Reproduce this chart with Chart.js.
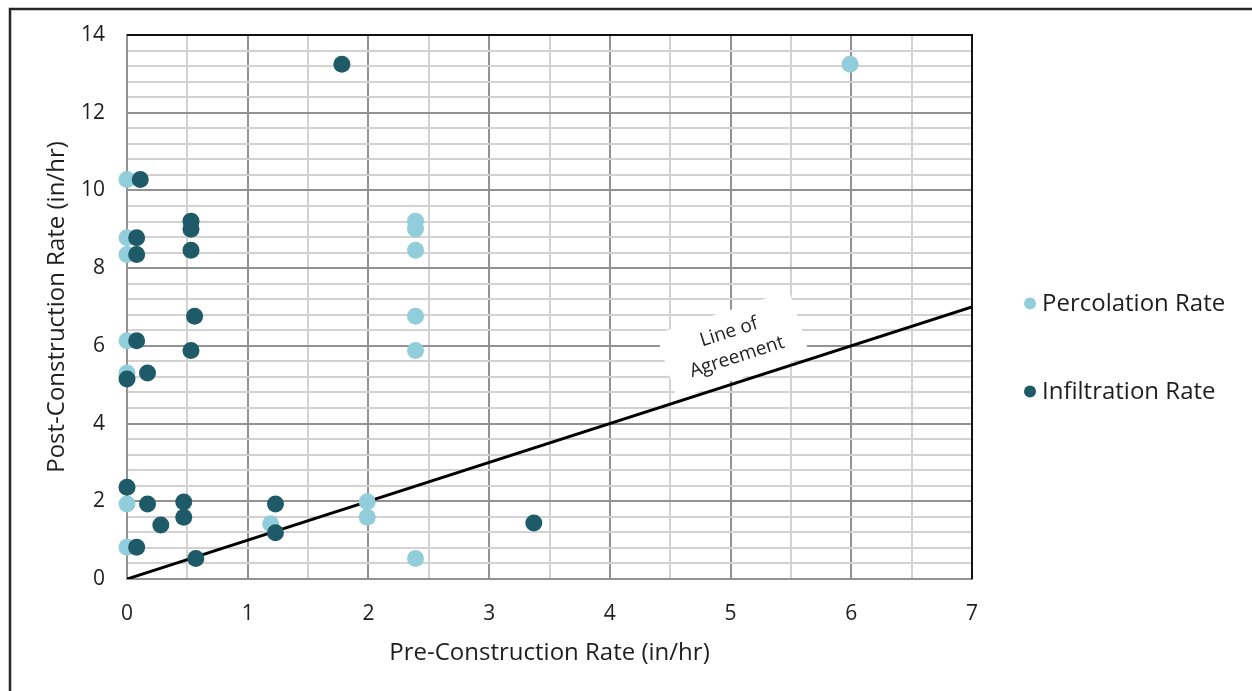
<!DOCTYPE html>
<html><head><meta charset="utf-8">
<script src="https://cdn.jsdelivr.net/npm/chart.js@4/dist/chart.umd.min.js"></script>
<style>html,body{margin:0;padding:0;background:#fff;} #wrap{width:1252px;height:691px;position:relative;}</style>
</head><body><div id="wrap"><canvas id="c"></canvas></div>
<script>
// ---- data ----
const percolationX = [0, 0, 0, 0, 0, 0, 0, 1.19, 1.99, 1.99, 2.39, 2.39, 2.39, 2.39, 2.39, 2.39, 5.99];
const percolationY = [10.28, 8.78, 8.35, 6.13, 5.30, 1.93, 0.82, 1.42, 1.99, 1.59, 9.21, 9.01, 8.46, 6.76, 5.88, 0.53, 13.25];
const infiltrationX = [1.78, 0.11, 0.08, 0.08, 0.53, 0.53, 0.53, 0.56, 0.53, 0.08, 0.17, 0, 0, 0.17, 0.28, 0.47, 0.47, 0.08, 0.57, 1.23, 1.23, 3.37];
const infiltrationY = [13.25, 10.28, 8.78, 8.35, 9.21, 9.00, 8.46, 6.76, 5.88, 6.13, 5.30, 5.15, 2.36, 1.93, 1.39, 1.98, 1.59, 0.82, 0.53, 1.93, 1.19, 1.44];
const agreementX = [0, 7];
const agreementY = [0, 7];
const seriesNames = ['Percolation Rate', 'Infiltration Rate', 'Line of Agreement'];
const annotationLines = ['Line of', 'Agreement'];
const annotationAt = [5.02, 6.03];
const xTitle = 'Pre-Construction Rate (in/hr)';
const yTitle = 'Post-Construction Rate (in/hr)';

const pts = (xs, ys) => xs.map((x, i) => ({x, y: ys[i]}));
const FONT = '"Open Sans"';
const TXT = '#1e1e1e';
const MAJOR = '#929292', MINOR = '#d2d2d2';
const near = (v, s) => Math.abs(v / s - Math.round(v / s)) < 1e-6;

const framePlugin = {
  id: 'frame',
  beforeDatasetsDraw(chart) {
    const {ctx, chartArea: a} = chart;
    ctx.save();
    ctx.strokeStyle = '#111'; ctx.lineWidth = 2;
    ctx.beginPath();
    ctx.moveTo(a.left, a.top); ctx.lineTo(a.right, a.top); ctx.lineTo(a.right, a.bottom);
    ctx.stroke();
    ctx.restore();
  },
  afterDraw(chart) {
    const {ctx} = chart;
    ctx.save();
    ctx.strokeStyle = '#262626'; ctx.lineWidth = 2.5;
    ctx.beginPath();
    ctx.moveTo(10, chart.height + 5); ctx.lineTo(10, 9); ctx.lineTo(chart.width + 5, 9);
    ctx.stroke();
    ctx.restore();
  }
};

const annotationPlugin = {
  id: 'agreeLabel',
  afterDatasetsDraw(chart) {
    const {ctx, scales: {x, y}} = chart;
    const cx = x.getPixelForValue(annotationAt[0]);
    const cy = y.getPixelForValue(annotationAt[1]);
    const dx = x.getPixelForValue(agreementX[1]) - x.getPixelForValue(agreementX[0]);
    const dy = y.getPixelForValue(agreementY[1]) - y.getPixelForValue(agreementY[0]);
    const ang = Math.atan2(dy, dx);
    ctx.save();
    ctx.translate(cx, cy); ctx.rotate(ang);
    ctx.fillStyle = '#fff';
    ctx.fillRect(-70, -34, 140, 68);
    ctx.fillStyle = '#222';
    ctx.font = '19px ' + FONT;
    ctx.textAlign = 'center'; ctx.textBaseline = 'middle';
    ctx.fillText(annotationLines[0], 0, -13);
    ctx.fillText(annotationLines[1], 0, 13);
    ctx.restore();
  }
};

const legendPlugin = {
  id: 'sideLegend',
  afterDraw(chart) {
    const {ctx, chartArea: a} = chart;
    const items = chart.data.datasets.filter(d => d.inLegend);
    const cy = chart.height / 2 + 2, gap = 88;
    ctx.save();
    items.forEach((d, i) => {
      const yy = cy + (i - (items.length - 1) / 2) * gap;
      const xx = a.right + 58;
      ctx.beginPath(); ctx.arc(xx, yy, 6, 0, Math.PI * 2);
      ctx.fillStyle = d.backgroundColor; ctx.fill();
      ctx.font = '24px ' + FONT; ctx.fillStyle = TXT;
      ctx.textAlign = 'left'; ctx.textBaseline = 'middle';
      ctx.fillText(d.label, xx + 12, yy + 1);
    });
    ctx.restore();
  }
};

new Chart(document.getElementById('c'), {
  type: 'scatter',
  data: {
    datasets: [
      {label: seriesNames[0], data: pts(percolationX, percolationY), backgroundColor: '#92cddc', borderColor: '#92cddc', pointRadius: 8.5, pointHoverRadius: 8.5, borderWidth: 0, order: 2, clip: false, inLegend: true},
      {label: seriesNames[1], data: pts(infiltrationX, infiltrationY), backgroundColor: '#1f5a68', borderColor: '#1f5a68', pointRadius: 8.5, pointHoverRadius: 8.5, borderWidth: 0, order: 1, clip: false, inLegend: true},
      {label: seriesNames[2], type: 'line', data: pts(agreementX, agreementY), borderColor: '#000', borderWidth: 3, pointRadius: 0, showLine: true, fill: false, order: 3, inLegend: false}
    ]
  },
  options: {
    responsive: true, maintainAspectRatio: false, animation: false,
    layout: {padding: {left: 10, top: 35, right: 280, bottom: 10}},
    plugins: {legend: {display: false}, tooltip: {enabled: false}},
    scales: {
      x: {
        type: 'linear', min: 0, max: 7,
        afterFit: s => { s.height = 102; },
        ticks: {stepSize: 0.5, autoSkip: false, maxRotation: 0, padding: 22, color: TXT, font: {family: FONT, size: 21},
          callback: v => near(v, 1) ? String(Math.round(v)) : ''},
        grid: {drawTicks: false, lineWidth: 2, color: c => near(c.tick.value, 1) ? MAJOR : MINOR},
        border: {color: MAJOR, width: 2},
        title: {display: true, text: xTitle, color: TXT, font: {family: FONT, size: 24}, padding: {top: 0, bottom: 13}}
      },
      y: {
        type: 'linear', min: 0, max: 14,
        afterFit: s => { s.width = 117; },
        ticks: {stepSize: 0.4, autoSkip: false, padding: 22, color: TXT, font: {family: FONT, size: 21},
          callback: v => near(v, 2) ? String(Math.round(v)) : ''},
        grid: {drawTicks: false, lineWidth: 2, color: c => near(c.tick.value, 2) ? MAJOR : MINOR},
        border: {color: MAJOR, width: 2},
        title: {display: true, text: yTitle, color: TXT, font: {family: FONT, size: 24}, padding: {top: 33, bottom: 0}}
      }
    }
  },
  plugins: [framePlugin, annotationPlugin, legendPlugin]
});
</script>
</body></html>
